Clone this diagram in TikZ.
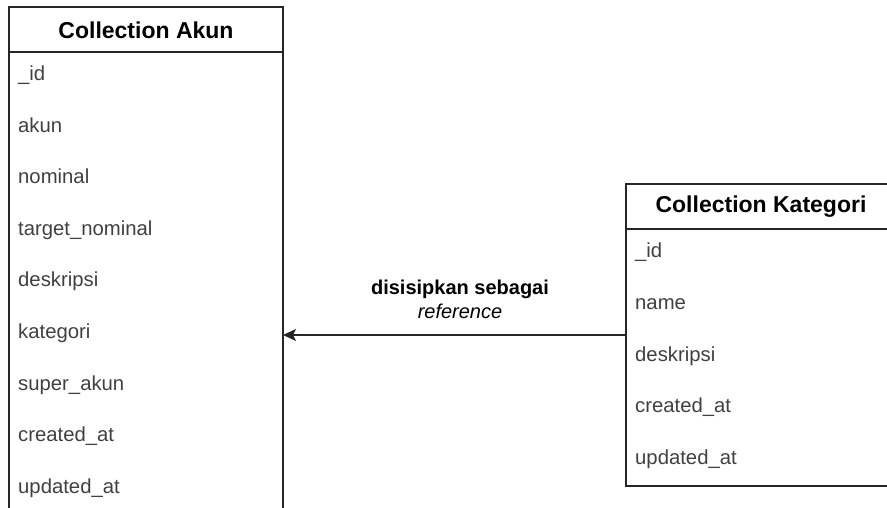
\documentclass[tikz,border=0pt]{standalone}
\usepackage{fontspec}
\setmainfont{Liberation Sans}
\usetikzlibrary{arrows.meta}

\begin{document}
\begin{tikzpicture}[x=1pt,y=-1pt,>={Stealth[length=13pt,width=12pt,inset=3pt]},
    tbl/.style={draw=black!85,line width=1.5pt,anchor=north west,
      minimum width=274pt,inner sep=0pt,outer sep=0pt},
    head/.style={font=\fontsize{23}{27}\selectfont\bfseries},
    field/.style={anchor=west,inner sep=0pt,text height=14pt,text depth=4pt,
      text=black!75,font=\fontsize{20.3}{24}\selectfont},
    lbl/.style={align=center,font=\fontsize{20}{24}\selectfont}]
  \useasboundingbox (0,0) rectangle (887,508);
  \clip (0,0) rectangle (887,508);

  % Collection Akun
  \node[tbl,minimum height=512pt] (akunBox) at (9,7) {};
  \draw[line width=1.5pt,draw=black!85] (9,52) -- (283,52);
  \node[head] (akun) at (146,30) {Collection Akun};
  \node[field] (a1) at (18,76) {\_id};
  \node[field] (a2) at (18,127.5) {akun};
  \node[field] (a3) at (18,179) {nominal};
  \node[field] (a4) at (18,230.5) {target\_nominal};
  \node[field] (a5) at (18,282) {deskripsi};
  \node[field] (a6) at (18,333.5) {kategori};
  \node[field] (a7) at (18,385) {super\_akun};
  \node[field] (a8) at (18,436.5) {created\_at};
  \node[field] (a9) at (18,488) {updated\_at};

  % Collection Kategori
  \node[tbl,minimum height=302pt] (katBox) at (626,184) {};
  \draw[line width=1.5pt,draw=black!85] (626,229) -- (900,229);
  \node[head] (kat) at (761,207) {Collection Kategori};
  \node[field] (k1) at (635,253) {\_id};
  \node[field] (k2) at (635,304.5) {name};
  \node[field] (k3) at (635,356) {deskripsi};
  \node[field] (k4) at (635,407.5) {created\_at};
  \node[field] (k5) at (635,459) {updated\_at};

  % relasi
  \node[lbl] (ref) at (460,299) {\textbf{disisipkan sebagai}\\\textit{reference}};
  \draw[->,line width=1.5pt,draw=black!85]
    (katBox.west) -- (akunBox.east |- katBox.west);
\end{tikzpicture}
\end{document}
